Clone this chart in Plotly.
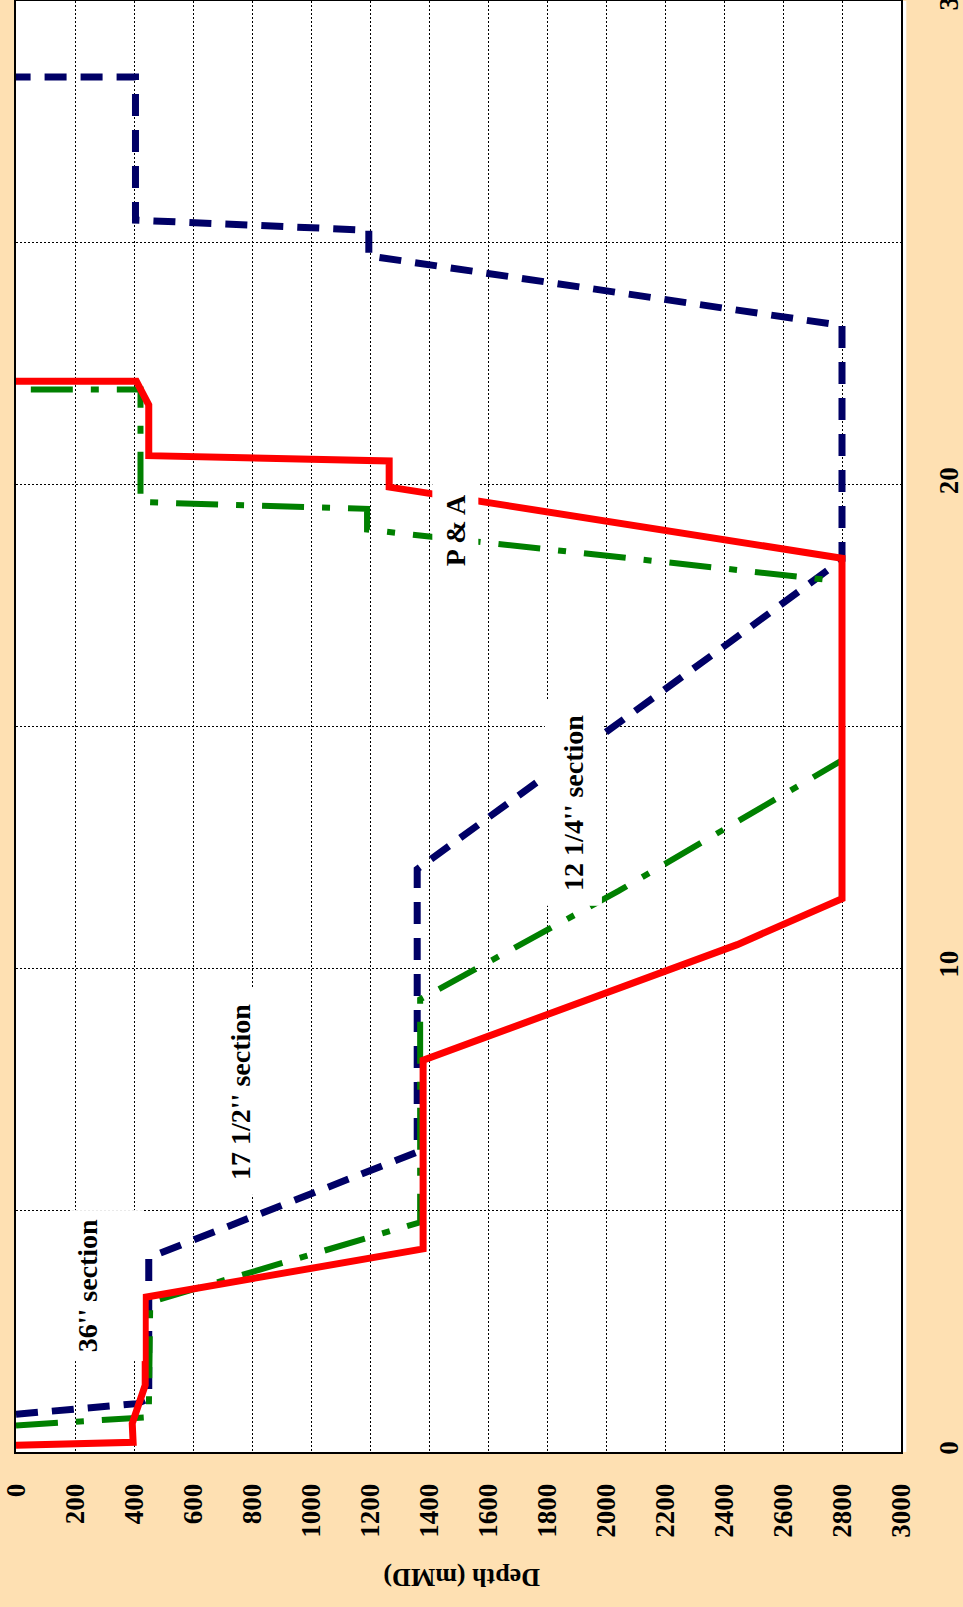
import plotly.graph_objects as go

# Well timeline: depth (mMD) against elapsed days
depth_ticks = list(range(0, 3001, 200))
day_ticks = [0, 5, 10, 15, 20, 25, 30]
day_labels = ["0", "", "10", "", "20", "", "30"]

# Planned / expected / actual curves (day, depth)
blue_days = [0.78, 1.0, 1.1, 4.02, 6.2, 12.05, 16.7, 18.45, 23.29, 24.73, 25.26, 25.47, 28.43, 28.43]
blue_depth = [0, 410, 450, 450, 1360, 1360, 2410, 2800, 2800, 1196, 1196, 405, 405, 0]

green_days = [0.55, 0.72, 3.1, 4.75, 9.36, 11.6, 14.3, 18.0, 19.07, 19.5, 19.64, 21.97, 21.97]
green_depth = [0, 450, 455, 1370, 1370, 2043, 2800, 2800, 1190, 1190, 422, 422, 0]

red_days = [0.14, 0.2, 0.59, 1.38, 3.2, 4.2, 8.1, 10.49, 11.44, 18.48, 19.95, 20.49, 20.6, 21.65, 22.14, 22.14]
red_depth = [0, 397, 394, 438, 438, 1380, 1380, 2445, 2800, 2800, 1265, 1265, 450, 450, 408, 0]

# Section labels: text, depth, day, box length along text, box thickness, vertical alignment
section_labels = [
    ("36'' section", 310, 3.45, 150, 70, "top"),
    ("17 1/2'' section", 760, 7.44, 205, 50, "middle"),
    ("12 1/4'' section", 1891, 13.43, 205, 56, "middle"),
    ("P & A", 1488, 19.06, 120, 45, "middle"),
]

FONT = "Liberation Serif"

fig = go.Figure()
fig.add_trace(go.Scatter(x=blue_depth, y=blue_days, mode="lines",
                         line=dict(color="#000066", width=7, dash="22px,14px"),
                         showlegend=False, hoverinfo="skip"))
fig.add_trace(go.Scatter(x=green_depth, y=green_days, mode="lines",
                         line=dict(color="#008000", width=6, dash="42px,18px,8px,18px"),
                         showlegend=False, hoverinfo="skip"))
fig.add_trace(go.Scatter(x=red_depth, y=red_days, mode="lines",
                         line=dict(color="#FF0000", width=7),
                         showlegend=False, hoverinfo="skip"))

for text, dep, day, w, h, va in section_labels:
    fig.add_annotation(x=dep, y=day, xref="x", yref="y", text="<b>%s</b>" % text,
                       textangle=-90, showarrow=False, bgcolor="white",
                       width=w, height=h, valign=va, borderpad=0,
                       font=dict(family=FONT, size=28, color="black"))

fig.add_annotation(x=0.5, y=0, xref="paper", yref="paper", xshift=3, yshift=-126,
                   xanchor="center", yanchor="middle",
                   text="<b>Depth (mMD)</b>", textangle=180, showarrow=False,
                   font=dict(family=FONT, size=26, color="black"))

# thin white strip along the right edge of the plot frame
fig.add_shape(type="rect", xref="paper", yref="paper", x0=1.002, x1=1.006, y0=0, y1=1,
              fillcolor="white", line=dict(width=0), layer="below")

axis_common = dict(showgrid=True, gridcolor="black", gridwidth=1, griddash="2px,2px",
                   showline=True, linecolor="black", linewidth=2, mirror=True,
                   zeroline=False, ticks="", tickangle=-90, automargin=False,
                   ticklabeloverflow="allow",
                   tickfont=dict(family=FONT, size=27, color="black"))

fig.update_xaxes(range=[0, 3000], tickvals=depth_ticks,
                 ticktext=["<b>%d</b>" % d for d in depth_ticks],
                 ticklabelstandoff=19, **axis_common)
fig.update_yaxes(range=[0, 30], tickvals=day_ticks,
                 ticktext=["<b>%s</b>" % t for t in day_labels],
                 side="right", ticklabelstandoff=23, **axis_common)

fig.update_layout(width=963, height=1607,
                  margin=dict(l=16, r=62, t=1, b=155),
                  paper_bgcolor="#FEE0B2", plot_bgcolor="white",
                  showlegend=False)

fig.write_html("out.html")
